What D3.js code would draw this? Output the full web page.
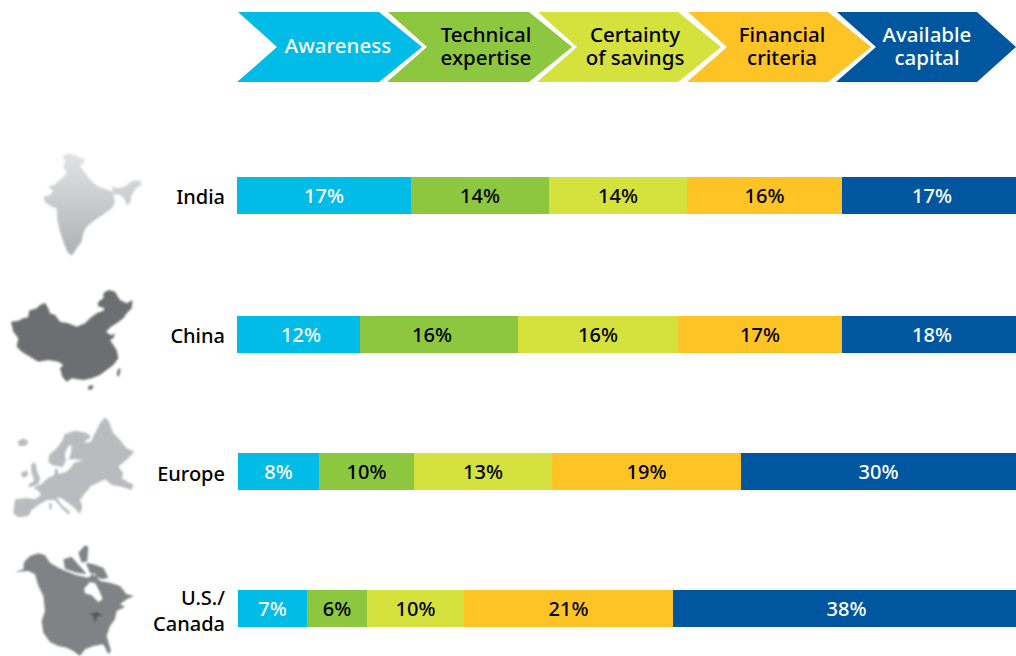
<html>
    <head>
        <meta charset="UTF-8">
        <title>Barriers by region</title>

        <script src="https://d3js.org/d3.v7.min.js"></script>

        <style>
            body { margin: 0; background: #fff; }
            text { font-family: "Noto Sans", "Open Sans", sans-serif; font-weight: 500; }
        </style>
    </head>

    <body>
        <svg id='svg1' height='656' width='1016'></svg>

        <script>
            // steps and regions
            const steps = [["Awareness"], ["Technical", "expertise"], ["Certainty", "of savings"], ["Financial", "criteria"], ["Available", "capital"]];
            const regions = [["India"], ["China"], ["Europe"], ["U.S./", "Canada"]];

            // printed labels
            const india = [17, 14, 14, 16, 17];
            const china = [12, 16, 16, 17, 18];
            const europe = [8, 10, 13, 19, 30];
            const usCanada = [7, 6, 10, 21, 38];

            // bar lengths, they don't quite follow the printed labels
            const indiaLen = [17.4, 13.8, 13.8, 15.5, 17.4];
            const chinaLen = [12.3, 15.8, 16.0, 16.4, 17.4];
            const europeLen = [8.1, 9.5, 13.8, 18.9, 27.5];
            const usCanadaLen = [6.9, 6.0, 9.7, 20.9, 34.3];

            const labels = [india, china, europe, usCanada];
            const lengths = [indiaLen, chinaLen, europeLen, usCanadaLen];

            // map outlines, traced in 3x zoomed picture coordinates
            const indiaMap = [[[97,35],[115,25],[135,30],[150,38],[165,42],[160,55],[150,62],[158,75],[166,86],[185,108],[205,125],[235,135],[250,142],[245,125],[265,130],[285,125],[305,108],[330,105],[335,118],[318,130],[305,150],[300,175],[290,180],[283,160],[270,150],[250,147],[255,175],[245,190],[225,205],[195,225],[170,245],[160,265],[155,290],[140,310],[125,332],[112,320],[100,290],[90,260],[82,225],[80,190],[65,185],[45,172],[40,155],[60,150],[70,138],[55,125],[75,118],[95,100],[110,85],[100,65],[105,48]]];
            const chinaMap = [
                [[18,125],[40,122],[55,115],[70,112],[72,92],[95,85],[105,75],[120,68],[130,85],[135,100],[150,105],[165,125],[190,130],[215,140],[240,130],[255,115],[275,100],[295,92],[298,85],[278,78],[280,65],[295,55],[295,40],[310,30],[330,35],[345,60],[365,70],[383,60],[380,85],[365,100],[355,115],[335,130],[318,140],[303,155],[318,166],[330,160],[325,175],[315,180],[325,195],[335,210],[340,235],[325,255],[305,270],[285,285],[260,295],[235,300],[200,295],[185,305],[172,290],[165,265],[175,255],[160,245],[130,240],[100,245],[75,230],[50,215],[35,200],[40,175],[25,155]],
                [[250,318],[265,315],[262,328],[250,330]],
                [[340,265],[347,268],[342,290],[335,285]]
            ];
            const europeMap = [
                [[30,268],[65,264],[90,268],[108,255],[100,242],[85,232],[110,222],[128,205],[148,195],[150,175],[158,178],[160,192],[185,185],[200,170],[205,160],[235,150],[200,147],[190,150],[198,130],[200,108],[192,105],[180,130],[182,155],[172,172],[158,168],[140,165],[130,155],[132,135],[155,115],[170,95],[180,72],[210,62],[245,68],[258,82],[245,90],[238,100],[258,95],[270,70],[285,40],[300,22],[312,35],[325,70],[345,90],[365,115],[388,125],[370,145],[340,170],[355,190],[350,205],[385,225],[380,240],[350,230],[320,225],[300,208],[285,215],[258,228],[240,250],[225,270],[232,290],[225,312],[205,290],[190,280],[170,265],[155,262],[170,285],[195,305],[192,315],[170,295],[150,270],[125,270],[100,285],[80,300],[70,318],[40,322],[25,310]],
                [[38,95],[55,85],[72,95],[60,108],[42,108]],
                [[47,190],[65,180],[70,195],[55,205]],
                [[82,158],[92,160],[95,180],[105,205],[100,222],[75,232],[68,228],[88,210],[80,190],[78,170]],
                [[133,280],[140,280],[140,298],[133,298]]
            ];
            const usCanadaMap = [
                [[15,108],[40,100],[42,78],[60,60],[85,52],[105,58],[120,80],[145,95],[165,104],[200,118],[235,125],[252,110],[270,135],[300,140],[330,150],[350,175],[372,180],[350,190],[330,205],[345,212],[320,225],[315,250],[300,270],[290,300],[303,345],[295,355],[280,325],[250,330],[225,340],[210,360],[190,345],[170,335],[145,330],[120,318],[100,290],[95,255],[105,225],[100,180],[85,150],[75,115],[55,105]],
                [[222,158],[240,138],[256,142],[268,165],[278,190],[265,198],[245,178],[225,172]],
                [[205,50],[225,28],[235,32],[232,75],[215,80]],
                [[228,80],[250,85],[280,95],[295,125],[275,130],[240,110],[232,92]],
                [[160,70],[185,62],[200,80],[218,100],[230,115],[200,110],[165,98]]
            ];
            const lakes = [[238,235],[262,228],[278,240],[262,240],[255,262],[250,240]];

            const colors = ['#00bce6', '#8dc63f', '#d5e13d', '#fec325', '#01579f'];
            const textColors = ['#fff', '#000', '#000', '#000', '#fff'];

            const svg = d3.select('svg#svg1');

            const defs = svg.append('defs');
            defs.append('filter').attr('id', 'soft')
                .append('feGaussianBlur').attr('stdDeviation', 2.4);
            const grad = defs.append('linearGradient').attr('id', 'indiaFill')
                .attr('x1', 0).attr('y1', 0).attr('x2', 0).attr('y2', 1);
            grad.append('stop').attr('offset', '0%').attr('stop-color', '#e2e3e5');
            grad.append('stop').attr('offset', '100%').attr('stop-color', '#aeb0b2');

            // scales
            const xScale = d3.scaleLinear().domain([0, 77.9]).range([237, 1016]);
            const rowScale = d3.scaleOrdinal().domain(d3.range(4)).range([177, 316, 453, 590]);
            const rowStart = [0, 0, 0.1, 0.1];
            const barHeight = 37;

            // chevrons across the top
            const chevLeft = [237, 387, 537, 687, 836];
            const chevRight = [379, 529, 678, 828, 977];
            const chevText = [338, 486, 635, 782, 927];
            const chevTop = 12, chevBottom = 82, chevMid = 47, tipDepth = 43, notchDepth = 40;

            const chevLine = d3.line();
            svg.selectAll('path.chev')
                .data(steps)
                .enter()
                .append('path')
                .attr('class', 'chev')
                .attr('fill', (d, i) => colors[i])
                .attr('d', (d, i) => chevLine([
                    [chevLeft[i] + 1, chevTop],
                    [chevRight[i], chevTop],
                    [chevRight[i] + tipDepth - (i == 4 ? 4 : 0), chevMid],
                    [chevRight[i], chevBottom],
                    [chevLeft[i], chevBottom],
                    [chevLeft[i] + notchDepth, chevMid]
                ]) + 'Z');

            const stepLabels = svg.selectAll('text.step')
                .data(steps)
                .enter()
                .append('text')
                .attr('class', 'step')
                .attr('text-anchor', 'middle')
                .attr('font-size', 20.5)
                .attr('fill', (d, i) => textColors[i]);
            stepLabels.selectAll('tspan')
                .data((d, i) => d.map(line => ({line: line, i: i, n: d.length})))
                .enter()
                .append('tspan')
                .attr('x', d => chevText[d.i])
                .attr('y', (d, j) => d.n == 1 ? 53 : 42 + j * 23)
                .text(d => d.line);

            // stacked bars
            labels.forEach((row, r) => {
                let start = rowStart[r];
                row.forEach((label, s) => {
                    const len = lengths[r][s];
                    svg.append('rect')
                        .attr('x', xScale(start))
                        .attr('y', rowScale(r))
                        .attr('width', xScale(start + len) - xScale(start))
                        .attr('height', barHeight)
                        .attr('fill', colors[s]);
                    // a few printed labels sit off centre in the original
                    let nudge = 0;
                    if (s == 4 && r < 2) nudge = 3;
                    if (s == 4 && r == 3) nudge = 2;
                    if (r == 1 && s == 0) nudge = 2.5;
                    if (r == 1 && s == 1) nudge = -7;
                    svg.append('text')
                        .attr('x', xScale(start + len / 2) + nudge)
                        .attr('y', rowScale(r) + 26)
                        .attr('text-anchor', 'middle')
                        .attr('font-size', 20)
                        .attr('fill', textColors[s])
                        .text(label + '%');
                    start += len;
                });
            });

            // region names
            const regionBase = [[204], [343], [481], [605, 631]];
            regions.forEach((lines, r) => {
                lines.forEach((line, j) => {
                    svg.append('text')
                        .attr('x', 225)
                        .attr('y', regionBase[r][j])
                        .attr('text-anchor', 'end')
                        .attr('font-size', 20)
                        .attr('fill', '#000')
                        .text(line);
                });
            });

            // maps
            const outline = d3.line().curve(d3.curveLinearClosed);
            const drawMap = (shapes, ox, oy, fill) => {
                svg.append('g')
                    .attr('transform', `translate(${ox}, ${oy}) scale(${1 / 3})`)
                    .attr('filter', 'url(#soft)')
                    .append('path')
                    .attr('fill', fill)
                    .attr('fill-rule', 'evenodd')
                    .attr('d', shapes.map(s => outline(s)).join(''));
            };
            drawMap(indiaMap, 30, 145, 'url(#indiaFill)');
            drawMap(chinaMap, 5, 280, '#6d6e71');
            drawMap(europeMap, 5, 410, '#b9bbbe');
            drawMap(usCanadaMap, 10, 536, '#808285');
            drawMap([lakes], 10, 536, '#55565a');
        </script>
    </body>
</html>
